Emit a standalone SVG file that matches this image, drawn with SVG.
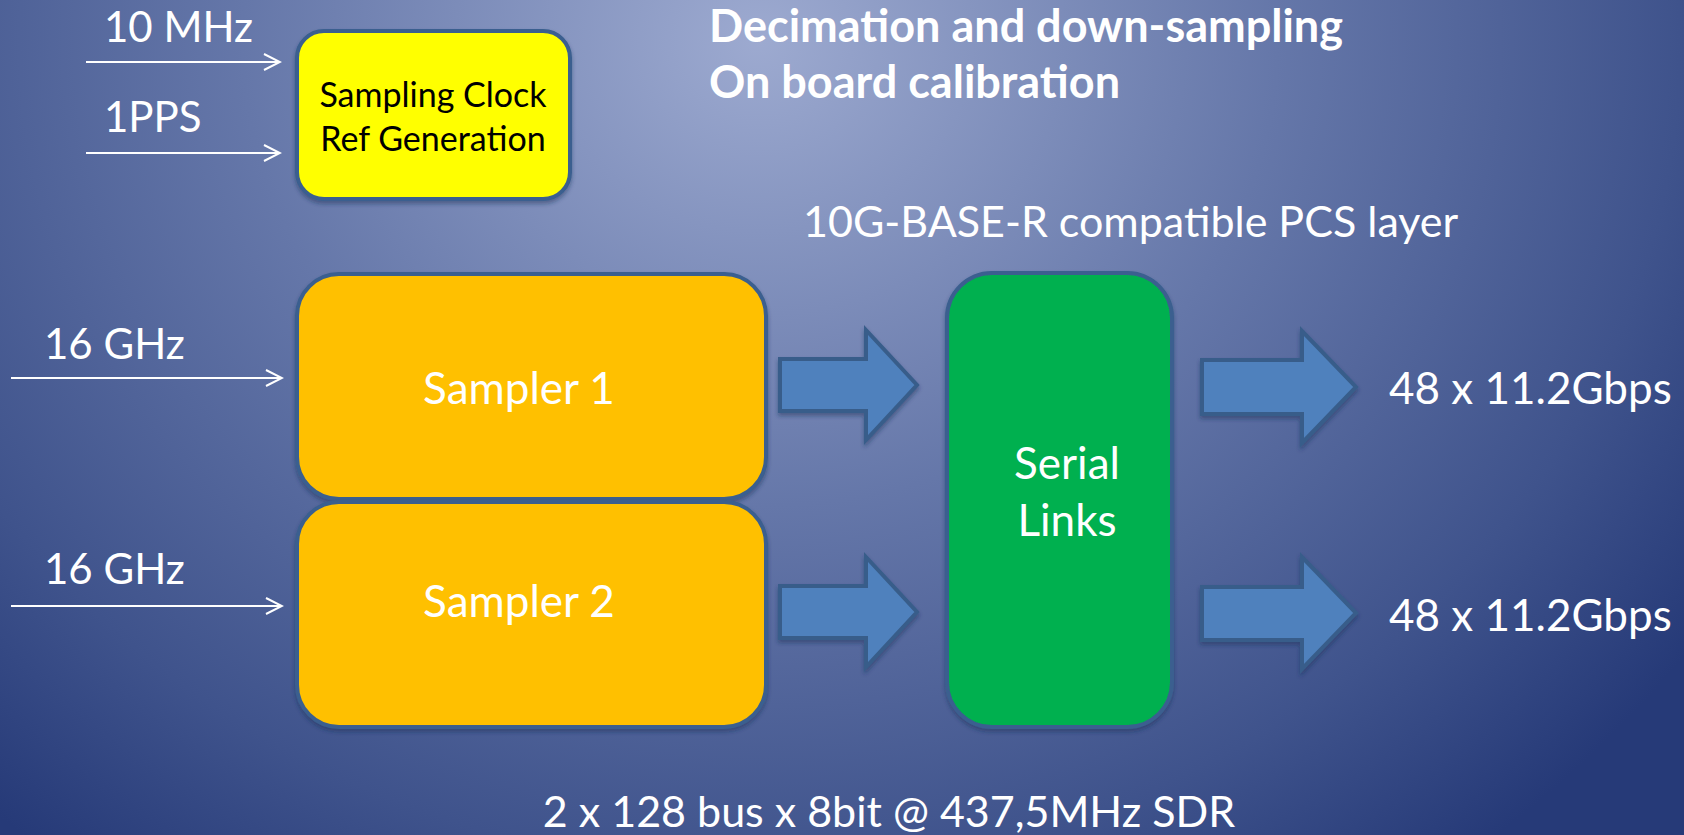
<svg xmlns="http://www.w3.org/2000/svg" width="1684" height="835" viewBox="0 0 1684 835">
<defs>
<radialGradient id="bg" gradientUnits="userSpaceOnUse" cx="760" cy="40" r="1150" gradientTransform="translate(760 40) scale(1 0.9) translate(-760 -40)">
<stop offset="0" stop-color="#9DAAD0"/>
<stop offset="0.45" stop-color="#6577A9"/>
<stop offset="0.8" stop-color="#3F538C"/>
<stop offset="1" stop-color="#263A78"/>
</radialGradient>
<filter id="sh" x="-10%" y="-10%" width="120%" height="125%">
<feDropShadow dx="0" dy="3" stdDeviation="2" flood-color="#1c2a55" flood-opacity="0.45"/>
</filter>
<marker id="open" viewBox="0 0 20 20" refX="18" refY="10" markerWidth="20" markerHeight="20" markerUnits="userSpaceOnUse" orient="auto">
<path d="M2,2 L18,10 L2,18" fill="none" stroke="#FFFFFF" stroke-width="2"/>
</marker>
</defs>
<style>
.box{stroke:#3A5F8F;stroke-width:4;filter:url(#sh)}
.blk{fill:#4F81BD;stroke:#385D8A;stroke-width:4;stroke-linejoin:miter;filter:url(#sh)}
.wire{stroke:#FFFFFF;stroke-width:2;fill:none;marker-end:url(#open)}
.t{font-family:Lato,"Liberation Sans",sans-serif;fill:#FFFFFF}
.big{font-size:44px}
.mid{font-size:43px}
.lbl{font-size:42px}
.blk-t{font-size:34px;fill:#000000}
.bold{font-size:45px;font-weight:bold}
</style>
<rect x="0" y="0" width="1684" height="835" fill="url(#bg)"/>

<g id="connectors">
<line class="wire" x1="86" y1="62" x2="280" y2="62"/>
<line class="wire" x1="86" y1="153" x2="280" y2="153"/>
<line class="wire" x1="11" y1="378" x2="282" y2="378"/>
<line class="wire" x1="11" y1="606" x2="282" y2="606"/>
<path class="blk" d="M780,359 L866,359 L866,330 L917,385 L866,440 L866,411 L780,411 Z"/>
<path class="blk" d="M780,586 L866,586 L866,557 L917,612 L866,667 L866,638 L780,638 Z"/>
<path class="blk" d="M1202,360 L1302,360 L1302,331 L1356,387 L1302,443 L1302,414 L1202,414 Z"/>
<path class="blk" d="M1202,587 L1302,587 L1302,557 L1356,613 L1302,669 L1302,640 L1202,640 Z"/>
</g>

<g id="clock-ref">
<rect class="box" x="297" y="31" width="273" height="168" rx="27" ry="27" fill="#FFFF00"/>
<text class="t blk-t" x="433" y="107" text-anchor="middle">Sampling Clock</text>
<text class="t blk-t" x="433" y="151" text-anchor="middle">Ref Generation</text>
</g>

<g id="sampler1">
<rect class="box" x="297" y="274" width="469" height="225" rx="42" ry="42" fill="#FFC000"/>
<text class="t big" x="519" y="404" text-anchor="middle">Sampler 1</text>
</g>

<g id="sampler2">
<rect class="box" x="297" y="502" width="469" height="225" rx="42" ry="42" fill="#FFC000"/>
<text class="t big" x="519" y="617" text-anchor="middle">Sampler 2</text>
</g>

<g id="serial-links">
<rect class="box" x="947" y="273" width="225" height="454" rx="45" ry="45" fill="#00B050"/>
<text class="t big" x="1067" y="479" text-anchor="middle">Serial</text>
<text class="t big" x="1067" y="536" text-anchor="middle">Links</text>
</g>

<g id="labels">
<text class="t lbl" x="104" y="42">10 MHz</text>
<text class="t lbl" x="104" y="132">1PPS</text>
<text class="t lbl" x="44" y="359">16 GHz</text>
<text class="t lbl" x="44" y="584">16 GHz</text>
<text class="t bold" x="709" y="42">Decimation and down-sampling</text>
<text class="t bold" x="709" y="98">On board calibration</text>
<text class="t mid" x="803" y="237">10G-BASE-R compatible PCS layer</text>
<text class="t big" x="1389" y="404">48 x 11.2Gbps</text>
<text class="t big" x="1389" y="631">48 x 11.2Gbps</text>
<text class="t mid" x="889" y="827" text-anchor="middle">2 x 128 bus x 8bit @ 437,5MHz SDR</text>
</g>
</svg>
